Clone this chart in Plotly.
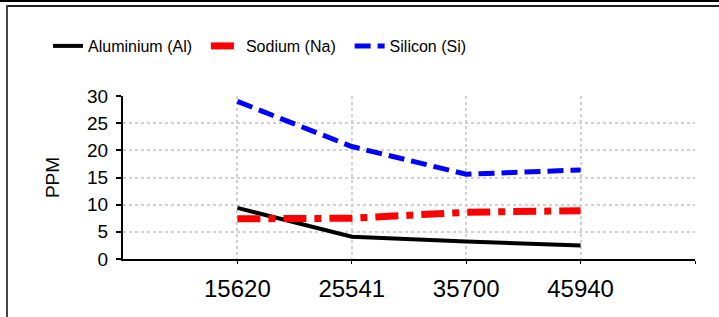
import plotly.graph_objects as go

samples = ["15620", "25541", "35700", "45940"]
aluminium = [9.4, 4.1, 3.2, 2.5]
sodium = [7.4, 7.5, 8.6, 8.9]
silicon = [29.0, 20.7, 15.6, 16.4]
y_ticks = [0, 5, 10, 15, 20, 25, 30]

xpos = [i + 1 for i in range(len(samples))]
FONT = "Liberation Sans, Arial, sans-serif"
PAD = "\u00a0\u00a0"

fig = go.Figure()
fig.add_trace(go.Scatter(x=xpos, y=aluminium, name="Aluminium (Al)" + PAD, mode="lines",
                         line=dict(color="black", width=4)))
fig.add_trace(go.Scatter(x=xpos, y=sodium, name="Sodium (Na)" + PAD, mode="lines",
                         line=dict(color="#ff0000", width=7, dash="23px,8px,7px,8px")))
fig.add_trace(go.Scatter(x=xpos, y=silicon, name="Silicon (Si)", mode="lines",
                         line=dict(color="#0000ff", width=5, dash="16px,7px")))

L, T, W, H = 123, 96, 572, 163


def px(x):
    return (x - L) / W


def py(y):
    return (T + H - y) / H


shapes = [
    dict(type="rect", xref="paper", yref="paper", x0=px(0), x1=px(719), y0=py(0), y1=py(2),
         fillcolor="black", line=dict(width=0), layer="above"),
    dict(type="rect", xref="paper", yref="paper", x0=px(6), x1=px(719), y0=py(5), y1=py(7),
         fillcolor="#222", line=dict(width=0), layer="above"),
    dict(type="rect", xref="paper", yref="paper", x0=px(6), x1=px(8), y0=py(5), y1=py(317),
         fillcolor="#444", line=dict(width=0), layer="above"),
]

fig.update_layout(
    width=719, height=317,
    margin=dict(l=L, r=719 - L - W, t=T, b=317 - T - H),
    paper_bgcolor="white", plot_bgcolor="white",
    font=dict(family=FONT, color="black"),
    showlegend=True,
    legend=dict(orientation="h", x=px(48), xanchor="left", y=py(29), yanchor="top",
                font=dict(size=16, family=FONT), itemwidth=30, tracegroupgap=0,
                bgcolor="rgba(0,0,0,0)"),
    shapes=shapes,
    xaxis=dict(range=[0, len(samples) + 1], tickvals=xpos + [len(samples) + 1],
               ticktext=samples + [""], showgrid=True, gridcolor="#d0d0d0", griddash="dot",
               gridwidth=1.5, zeroline=False, showline=True, linecolor="black", linewidth=2,
               ticks="outside", ticklen=3, tickcolor="black", ticklabelstandoff=4,
               tickfont=dict(size=24, family=FONT)),
    yaxis=dict(range=[0, 30], tickvals=y_ticks, showgrid=True, gridcolor="#d0d0d0", griddash="dot",
               gridwidth=1.5, zeroline=False, showline=True, linecolor="black", linewidth=2,
               ticks="outside", ticklen=5, tickcolor="black", tickwidth=1.5,
               ticklabelstandoff=4,
               tickfont=dict(size=19, family=FONT),
               title=dict(text="PPM", font=dict(size=19, family=FONT), standoff=22)),
)

fig.write_html("out.html", config={"displayModeBar": False},
               post_script="document.body.style.margin='0';")
